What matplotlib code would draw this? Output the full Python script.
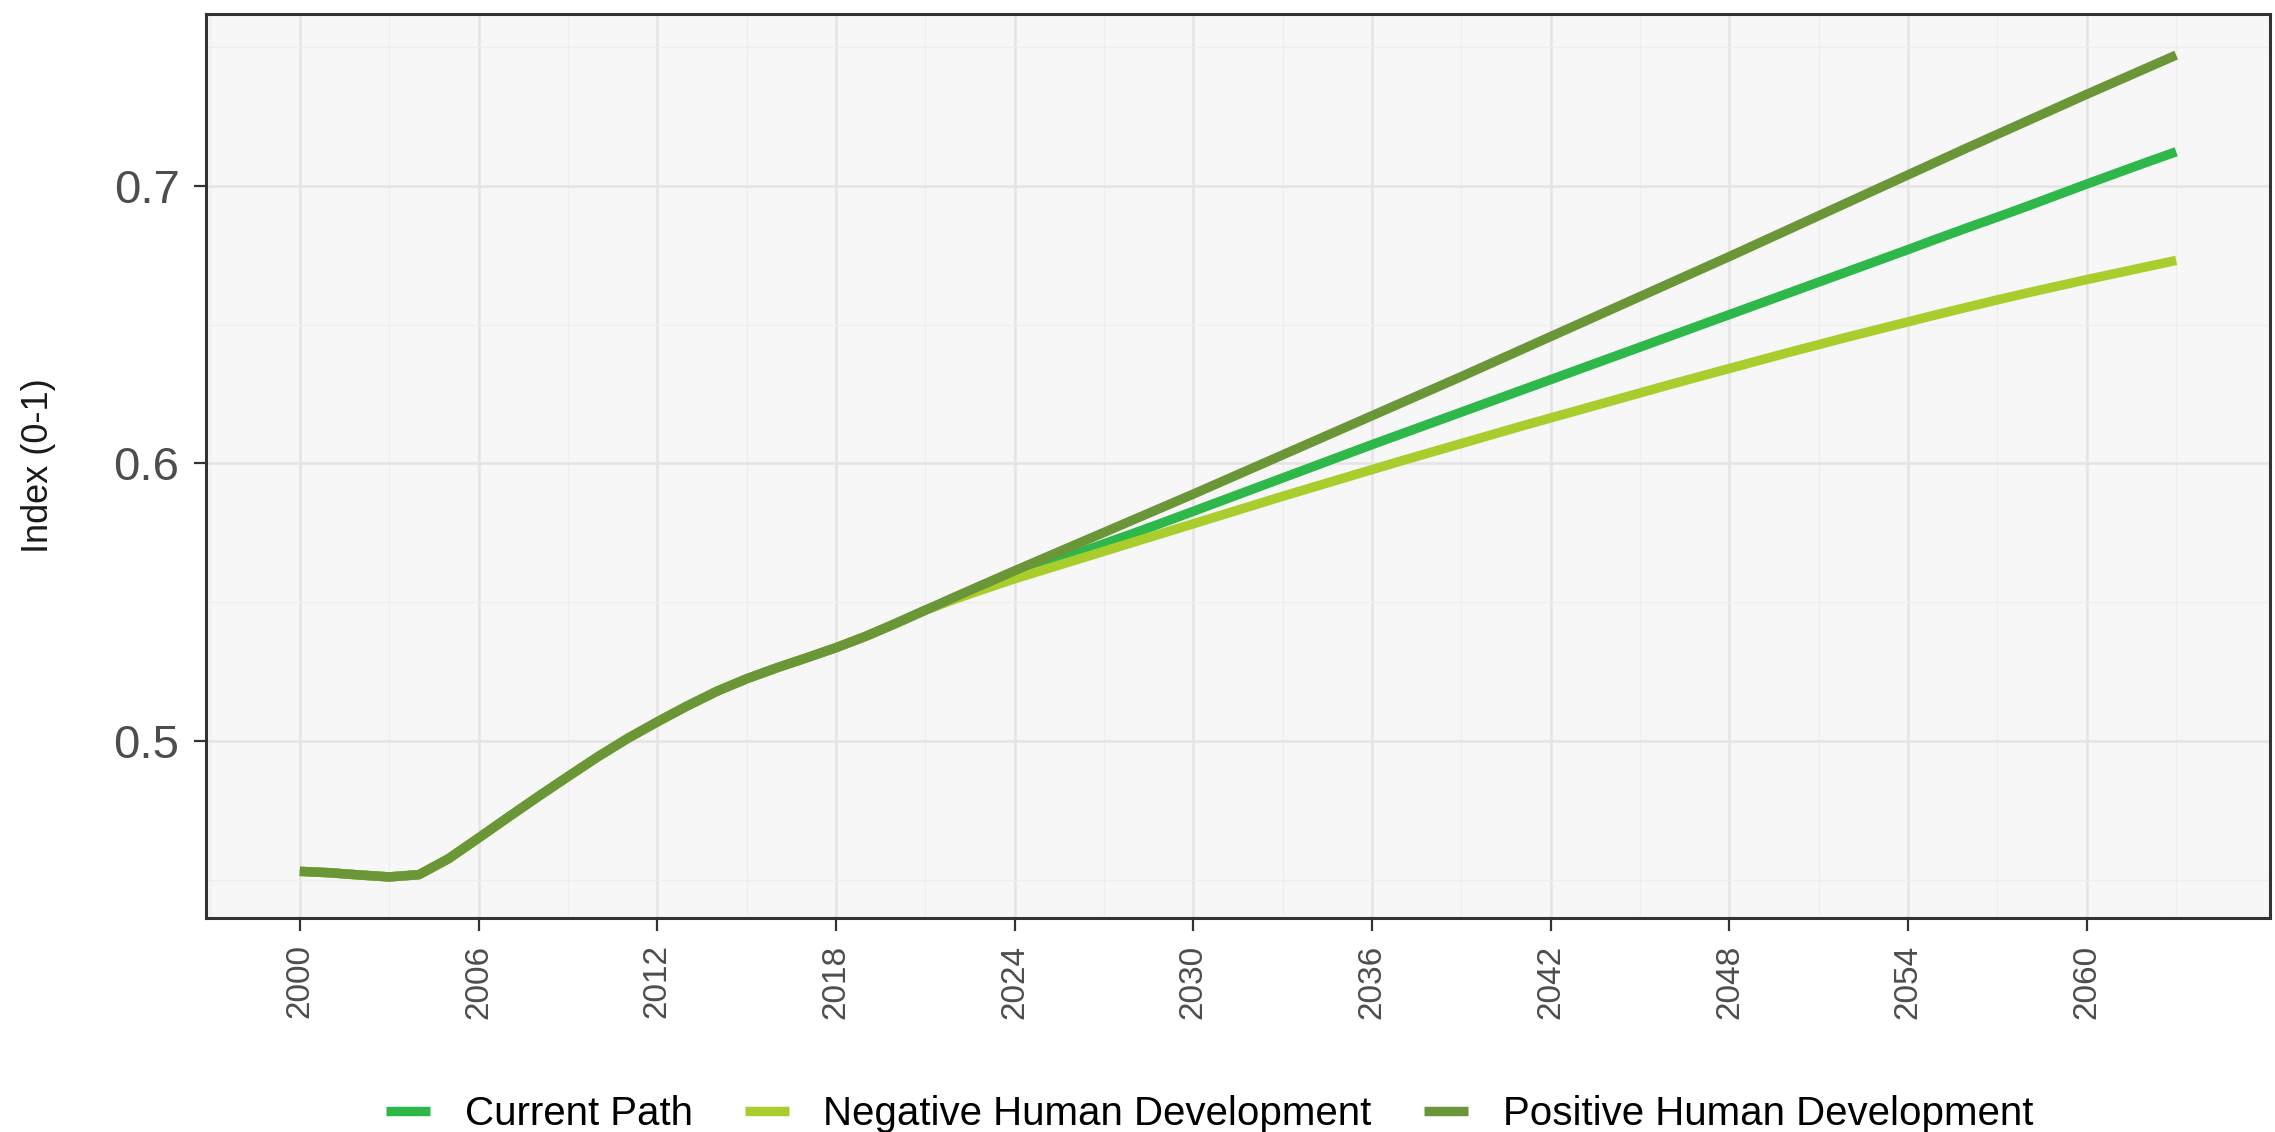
import matplotlib
matplotlib.use("Agg")
import matplotlib.pyplot as plt

plt.rcParams["font.family"] = ["Liberation Sans", "DejaVu Sans"]

# shared history 2000-2021 (all three scenarios coincide)
hist_years = list(range(2000, 2022))
hist_values = [0.4532, 0.4527, 0.4519, 0.4512, 0.4520, 0.4578, 0.4652, 0.4727,
               0.4801, 0.4873, 0.4944, 0.5010, 0.5070, 0.5127, 0.5180, 0.5225,
               0.5264, 0.5300, 0.5337, 0.5378, 0.5424, 0.5472]

# projections 2022-2063
proj_years = list(range(2022, 2064))
current_path = [0.5516, 0.5557, 0.5597, 0.5635, 0.5673, 0.5711, 0.5749, 0.5788,
                0.5828, 0.5868, 0.5908, 0.5948, 0.5988, 0.6028, 0.6068, 0.6107,
                0.6146, 0.6185, 0.6224, 0.6263, 0.6302, 0.6341, 0.6380, 0.6419,
                0.6458, 0.6497, 0.6536, 0.6575, 0.6614, 0.6653, 0.6692, 0.6731,
                0.6770, 0.6810, 0.6849, 0.6887, 0.6926, 0.6966, 0.7006, 0.7045,
                0.7084, 0.7122]
negative_hd = [0.5512, 0.5549, 0.5585, 0.5618, 0.5651, 0.5684, 0.5717, 0.5750,
               0.5783, 0.5816, 0.5849, 0.5882, 0.5914, 0.5946, 0.5978, 0.6010,
               0.6041, 0.6072, 0.6103, 0.6134, 0.6164, 0.6194, 0.6224, 0.6254,
               0.6284, 0.6313, 0.6342, 0.6371, 0.6400, 0.6428, 0.6456, 0.6483,
               0.6510, 0.6537, 0.6563, 0.6589, 0.6614, 0.6638, 0.6662, 0.6685,
               0.6708, 0.6731]
positive_hd = [0.5520, 0.5567, 0.5614, 0.5660, 0.5706, 0.5752, 0.5798, 0.5844,
               0.5890, 0.5937, 0.5984, 0.6031, 0.6078, 0.6125, 0.6172, 0.6219,
               0.6266, 0.6313, 0.6361, 0.6409, 0.6457, 0.6505, 0.6553, 0.6601,
               0.6649, 0.6697, 0.6745, 0.6794, 0.6843, 0.6892, 0.6941, 0.6990,
               0.7039, 0.7088, 0.7137, 0.7185, 0.7233, 0.7281, 0.7329, 0.7376,
               0.7423, 0.7470]

series_labels = ["Current Path", "Negative Human Development", "Positive Human Development"]
series_colors = ["#2fb84a", "#a9cd2c", "#6b9637"]

x_ticks = list(range(2000, 2061, 6))
y_ticks = [0.5, 0.6, 0.7]

fig = plt.figure(figsize=(22.75, 11.32), dpi=100)
ax = fig.add_axes([206 / 2275, 1 - 918 / 1132, (2270 - 206) / 2275, (918 - 14) / 1132])
ax.set_facecolor("#f7f7f7")

all_years = hist_years + proj_years
for label, color, proj in zip(series_labels, series_colors, [current_path, negative_hd, positive_hd]):
    ax.plot(all_years, hist_values + proj, color=color, lw=6.8,
            solid_capstyle="butt", solid_joinstyle="round", label=label)

# ggplot-style 5% expansion
x_lo, x_hi = min(all_years), max(all_years)
vals = hist_values + current_path + negative_hd + positive_hd
y_lo, y_hi = min(vals), max(vals)
ax.set_xlim(x_lo - 0.05 * (x_hi - x_lo), x_hi + 0.05 * (x_hi - x_lo))
ax.set_ylim(y_lo - 0.05 * (y_hi - y_lo), y_hi + 0.05 * (y_hi - y_lo))

ax.set_xticks(x_ticks)
ax.set_xticks([x + 3 for x in [1994] + x_ticks], minor=True)
ax.set_yticks(y_ticks)
ax.set_yticks([0.45, 0.55, 0.65, 0.75], minor=True)
ax.set_xticklabels([str(x) for x in x_ticks], rotation=90, fontsize=24, color="#4d4d4d")
ax.set_yticklabels([f"{y:.1f}" for y in y_ticks], fontsize=34, color="#4d4d4d")
ax.tick_params(which="major", length=9, width=1.6, color="#333333", pad=10)
ax.tick_params(which="minor", length=0)

ax.grid(which="major", color="#e4e4e4", lw=1.8)
ax.grid(which="minor", color="#eeeeee", lw=1.0)
ax.set_axisbelow(True)
for sp in ax.spines.values():
    sp.set_color("#333333")
    sp.set_linewidth(2.2)

fig.text(38 / 2275, 1 - 466 / 1132, "Index (0-1)", rotation=90, fontsize=26,
         ha="center", va="center", color="#1a1a1a")

fig.legend(loc="center left", bbox_to_anchor=(386 / 2275, 0.016), ncol=3, frameon=False,
           fontsize=29, handlelength=1.1, handletextpad=0.85, columnspacing=1.3,
           borderpad=0, borderaxespad=0)

fig.savefig("out.png", dpi=100)
